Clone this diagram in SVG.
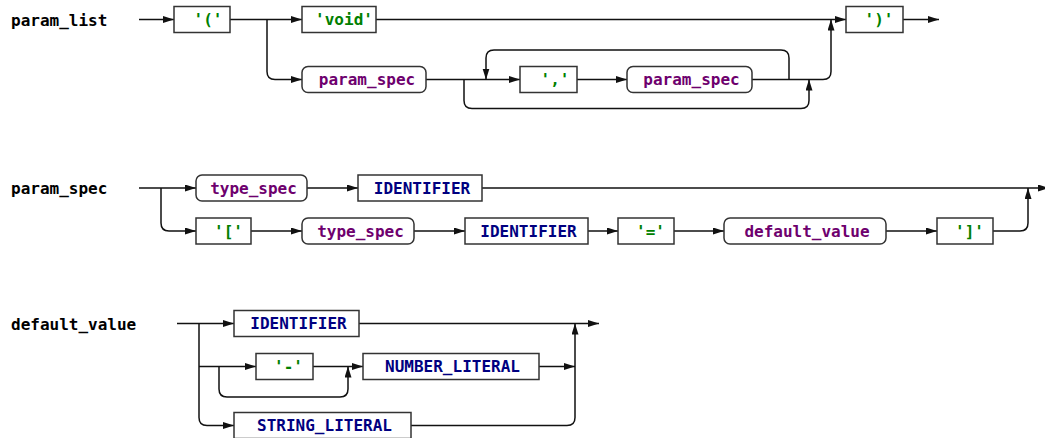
<svg xmlns="http://www.w3.org/2000/svg" width="1045" height="438" viewBox="0 0 1045 438">
<style>
  .lbl{font-family:"DejaVu Sans Mono","Liberation Mono",monospace;font-weight:bold;font-size:16px;fill:#000}
  .t{font-family:"DejaVu Sans Mono","Liberation Mono",monospace;font-weight:bold;font-size:16px;text-anchor:middle}
  .term{fill:#008000}
  .nt{fill:#6e006e}
  .tok{fill:#000080}
  .box{fill:#fff;stroke:#333;stroke-width:1.5}
  .conn path{fill:none;stroke:#111;stroke-width:1.5}
</style>
<defs>
  <marker id="arr" markerUnits="userSpaceOnUse" markerWidth="12" markerHeight="8" refX="11" refY="3.5" orient="auto">
    <path d="M0,0 L11,3.5 L0,7 z" fill="#111"/>
  </marker>
</defs>
<rect width="1045" height="438" fill="#fff"/>

<g id="labels">
  <text class="lbl" x="11" y="25.5">param_list</text>
  <text class="lbl" x="11" y="193.5">param_spec</text>
  <text class="lbl" x="11" y="329.5">default_value</text>
</g>

<g id="connectors" class="conn">
  <!-- param_list -->
  <path d="M139 19.5 H174" marker-end="url(#arr)"/>
  <path d="M230 19.5 H302" marker-end="url(#arr)"/>
  <path d="M267 19.5 V71.5 Q267 79.5 275 79.5 H302" marker-end="url(#arr)"/>
  <path d="M376 19.5 H846" marker-end="url(#arr)"/>
  <path d="M426 79.5 H520" marker-end="url(#arr)"/>
  <path d="M577 79.5 H627" marker-end="url(#arr)"/>
  <path d="M752 79.5 H823 Q831 79.5 831 71.5 V19.5" marker-end="url(#arr)"/>
  <path d="M789 79.5 V58 Q789 50 781 50 H494 Q486 50 486 58 V79.5" marker-end="url(#arr)"/>
  <path d="M464 79.5 V100.5 Q464 108.5 472 108.5 H801 Q809 108.5 809 100.5 V79.5" marker-end="url(#arr)"/>
  <path d="M903 19.5 H939" marker-end="url(#arr)"/>
  <!-- param_spec -->
  <path d="M139 188 H196" marker-end="url(#arr)"/>
  <path d="M161 188 V223 Q161 231 169 231 H196" marker-end="url(#arr)"/>
  <path d="M307 188 H358" marker-end="url(#arr)"/>
  <path d="M482 188 H1049" marker-end="url(#arr)"/>
  <path d="M251 231 H302" marker-end="url(#arr)"/>
  <path d="M414 231 H465" marker-end="url(#arr)"/>
  <path d="M588 231 H618" marker-end="url(#arr)"/>
  <path d="M674 231 H724" marker-end="url(#arr)"/>
  <path d="M886 231 H937" marker-end="url(#arr)"/>
  <path d="M993 231 H1020 Q1028 231 1028 223 V188" marker-end="url(#arr)"/>
  <!-- default_value -->
  <path d="M177 323.5 H234" marker-end="url(#arr)"/>
  <path d="M199 323.5 V417.5 Q199 425.5 207 425.5 H234" marker-end="url(#arr)"/>
  <path d="M199 366.5 H256" marker-end="url(#arr)"/>
  <path d="M219 366.5 V389 Q219 397 227 397 H340 Q348 397 348 389 V366.5" marker-end="url(#arr)"/>
  <path d="M313 366.5 H363" marker-end="url(#arr)"/>
  <path d="M539 366.5 H575" marker-end="url(#arr)"/>
  <path d="M359 323.5 H599" marker-end="url(#arr)"/>
  <path d="M411 425.5 H567 Q575 425.5 575 417.5 V323.5" marker-end="url(#arr)"/>
</g>

<!-- param_list nodes -->
<g id="pl_lparen"><rect class="box" x="174" y="6.5" width="56" height="26"/><text class="t term" x="208" y="25">'('</text></g>
<g id="pl_void"><rect class="box" x="302" y="6.5" width="74" height="26"/><text class="t term" x="344" y="25">'void'</text></g>
<g id="pl_param_spec1"><rect class="box" x="302" y="66.5" width="124" height="26" rx="6"/><text class="t nt" x="367" y="85">param_spec</text></g>
<g id="pl_comma"><rect class="box" x="520" y="66.5" width="57" height="26"/><text class="t term" x="555" y="85">','</text></g>
<g id="pl_param_spec2"><rect class="box" x="627" y="66.5" width="125" height="26" rx="6"/><text class="t nt" x="691.5" y="85">param_spec</text></g>
<g id="pl_rparen"><rect class="box" x="846" y="6.5" width="57" height="26"/><text class="t term" x="879" y="25">')'</text></g>

<!-- param_spec nodes -->
<g id="ps_type_spec1"><rect class="box" x="196" y="175" width="111" height="26" rx="6"/><text class="t nt" x="253.5" y="193.5">type_spec</text></g>
<g id="ps_identifier1"><rect class="box" x="358" y="175" width="124" height="26"/><text class="t tok" x="422" y="193.5">IDENTIFIER</text></g>
<g id="ps_lbracket"><rect class="box" x="196" y="218" width="55" height="26"/><text class="t term" x="228.5" y="236.5">'['</text></g>
<g id="ps_type_spec2"><rect class="box" x="302" y="218" width="112" height="26" rx="6"/><text class="t nt" x="360.5" y="236.5">type_spec</text></g>
<g id="ps_identifier2"><rect class="box" x="465" y="218" width="123" height="26"/><text class="t tok" x="528.5" y="236.5">IDENTIFIER</text></g>
<g id="ps_eq"><rect class="box" x="618" y="218" width="56" height="26"/><text class="t term" x="650.5" y="236.5">'='</text></g>
<g id="ps_default_value"><rect class="box" x="724" y="218" width="162" height="26" rx="6"/><text class="t nt" x="807" y="236.5">default_value</text></g>
<g id="ps_rbracket"><rect class="box" x="937" y="218" width="56" height="26"/><text class="t term" x="969.5" y="236.5">']'</text></g>

<!-- default_value nodes -->
<g id="dv_identifier"><rect class="box" x="234" y="310.5" width="125" height="26"/><text class="t tok" x="298.5" y="329">IDENTIFIER</text></g>
<g id="dv_minus"><rect class="box" x="256" y="353.5" width="57" height="26"/><text class="t term" x="288.5" y="372">'-'</text></g>
<g id="dv_number"><rect class="box" x="363" y="353.5" width="176" height="26"/><text class="t tok" x="452.5" y="372">NUMBER_LITERAL</text></g>
<g id="dv_string"><rect class="box" x="234" y="412.5" width="177" height="26"/><text class="t tok" x="324.5" y="431">STRING_LITERAL</text></g>
</svg>
